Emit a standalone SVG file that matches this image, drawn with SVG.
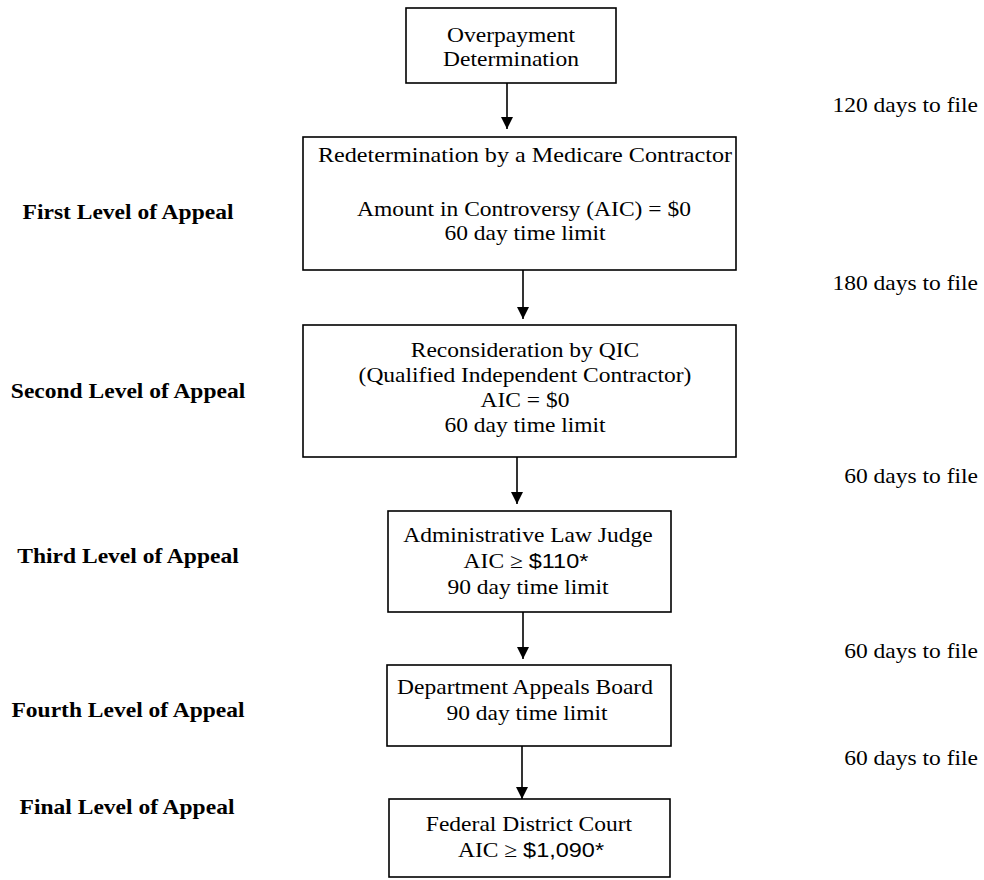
<svg xmlns="http://www.w3.org/2000/svg" width="984" height="880" viewBox="0 0 984 880">
<style>
.box{fill:#fff;stroke:#000;stroke-width:1.6}
.t{font-family:"Liberation Serif","Times New Roman",serif;font-size:21px;fill:#000;text-anchor:middle}
.r{font-family:"Liberation Serif","Times New Roman",serif;font-size:21px;fill:#000;text-anchor:end}
.b{font-family:"Liberation Serif","Times New Roman",serif;font-size:21px;font-weight:bold;fill:#000;text-anchor:middle}
.s{font-family:"Liberation Sans",Arial,sans-serif}
.c{stroke:#000;stroke-width:1.6;fill:none;marker-end:url(#ah)}
</style>
<defs>
<marker id="ah" viewBox="0 0 10 10" refX="10" refY="5" markerWidth="13" markerHeight="12" markerUnits="userSpaceOnUse" orient="auto">
<path d="M0,0 L10,5 L0,10 z" fill="#000"/>
</marker>
</defs>
<rect width="984" height="880" fill="#fff"/>

<g id="connectors">
<line class="c" x1="507" y1="83" x2="507" y2="129"/>
<line class="c" x1="523" y1="270" x2="523" y2="319"/>
<line class="c" x1="517" y1="457" x2="517" y2="504"/>
<line class="c" x1="523" y1="612" x2="523" y2="659"/>
<line class="c" x1="522" y1="746" x2="522" y2="799"/>
</g>

<g id="overpayment">
<rect class="box" x="406" y="8" width="210" height="75"/>
<text class="t" transform="translate(511,42) scale(1.12,1)">Overpayment</text>
<text class="t" transform="translate(511,66) scale(1.12,1)">Determination</text>
</g>

<g id="redetermination">
<rect class="box" x="303" y="137" width="433" height="133"/>
<text class="t" transform="translate(525,162) scale(1.15,1)">Redetermination by a Medicare Contractor</text>
<text class="t" transform="translate(524,216) scale(1.12,1)">Amount in Controversy (AIC) = $0</text>
<text class="t" transform="translate(525,240) scale(1.12,1)">60 day time limit</text>
</g>

<g id="reconsideration">
<rect class="box" x="303" y="325" width="433" height="132"/>
<text class="t" transform="translate(525,357) scale(1.12,1)">Reconsideration by QIC</text>
<text class="t" transform="translate(525,382) scale(1.12,1)">(Qualified Independent Contractor)</text>
<text class="t" transform="translate(525,407) scale(1.12,1)">AIC = $0</text>
<text class="t" transform="translate(525,432) scale(1.12,1)">60 day time limit</text>
</g>

<g id="alj">
<rect class="box" x="388" y="511" width="283" height="101"/>
<text class="t" transform="translate(528,542) scale(1.12,1)">Administrative Law Judge</text>
<text class="t" transform="translate(526,568) scale(1.12,1)">AIC ≥ <tspan class="s">$110*</tspan></text>
<text class="t" transform="translate(528,594) scale(1.12,1)">90 day time limit</text>
</g>

<g id="dab">
<rect class="box" x="387" y="665" width="284" height="81"/>
<text class="t" transform="translate(525,694) scale(1.12,1)">Department Appeals Board</text>
<text class="t" transform="translate(527,720) scale(1.12,1)">90 day time limit</text>
</g>

<g id="court">
<rect class="box" x="389" y="799" width="281" height="78"/>
<text class="t" transform="translate(529,831) scale(1.12,1)">Federal District Court</text>
<text class="t" transform="translate(531,857) scale(1.12,1)">AIC ≥ <tspan class="s">$1,090*</tspan></text>
</g>

<g id="levels">
<text class="b" transform="translate(128,219) scale(1.12,1)">First Level of Appeal</text>
<text class="b" transform="translate(128,398) scale(1.12,1)">Second Level of Appeal</text>
<text class="b" transform="translate(128,563) scale(1.12,1)">Third Level of Appeal</text>
<text class="b" transform="translate(128,717) scale(1.12,1)">Fourth Level of Appeal</text>
<text class="b" transform="translate(127,814) scale(1.12,1)">Final Level of Appeal</text>
</g>

<g id="deadlines">
<text class="r" transform="translate(978,112) scale(1.12,1)">120 days to file</text>
<text class="r" transform="translate(978,290) scale(1.12,1)">180 days to file</text>
<text class="r" transform="translate(978,483) scale(1.12,1)">60 days to file</text>
<text class="r" transform="translate(978,658) scale(1.12,1)">60 days to file</text>
<text class="r" transform="translate(978,765) scale(1.12,1)">60 days to file</text>
</g>
</svg>
